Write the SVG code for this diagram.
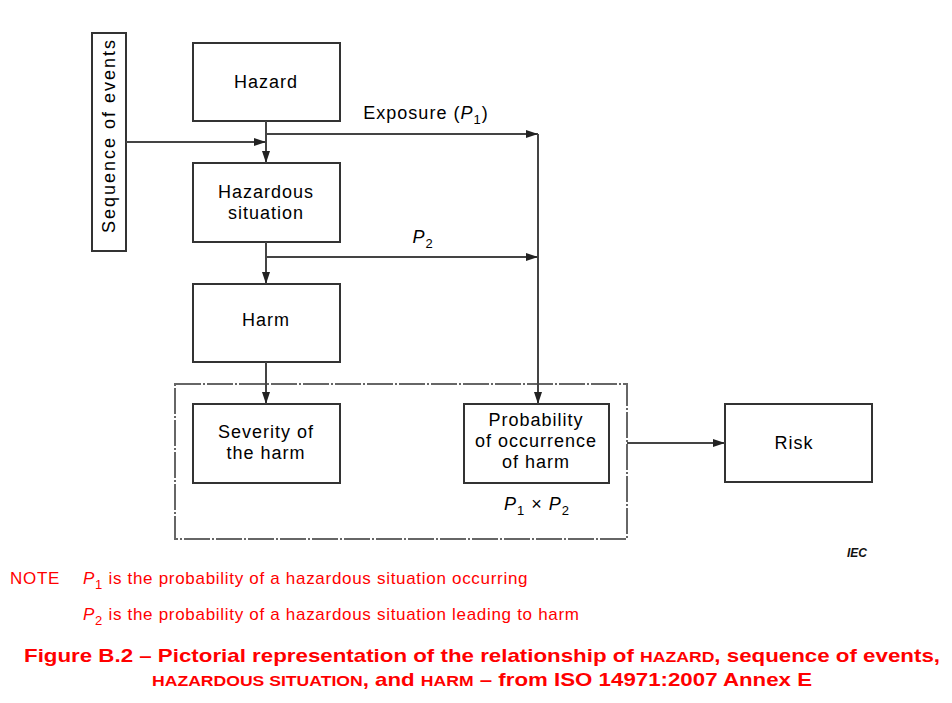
<svg xmlns="http://www.w3.org/2000/svg" width="952" height="703" viewBox="0 0 952 703">
<style>
.box{fill:#fff;stroke:#333;stroke-width:2}
.t{font-family:"Liberation Sans",Arial,sans-serif;font-size:18px;letter-spacing:1px;fill:#000;text-anchor:middle}
.c{fill:none;stroke:#444;stroke-width:2}
.red{font-family:"Liberation Sans",Arial,sans-serif;font-size:17px;letter-spacing:0.7px;fill:#ff0000}
.cap{font-family:"Liberation Sans",Arial,sans-serif;font-size:19px;font-weight:bold;fill:#ff0000;text-anchor:middle}
.sc{font-size:15px}
.sub{font-size:13px}
</style>
<defs>
<marker id="ah" markerWidth="13" markerHeight="9" refX="12" refY="4.5" orient="auto" markerUnits="userSpaceOnUse">
<path d="M0,0.5 L12,4.5 L0,8.5 Z" fill="#222"/>
</marker>
</defs>
<rect width="952" height="703" fill="#fff"/>
<g id="group-box">
<rect x="175" y="384" width="452" height="155" fill="none" stroke="#666" stroke-width="2" stroke-dasharray="26,2,2,2"/>
</g>
<g id="seq">
<rect class="box" x="92" y="33" width="34" height="218"/>
<text class="t" transform="translate(115,136) rotate(-90)" textLength="194" lengthAdjust="spacing">Sequence of events</text>
</g>
<g id="hazard">
<rect class="box" x="193" y="43" width="147" height="78"/>
<text class="t" x="266" y="88">Hazard</text>
</g>
<g id="hazsit">
<rect class="box" x="193" y="163" width="147" height="79"/>
<text class="t" x="266" y="198">Hazardous</text>
<text class="t" x="266" y="219">situation</text>
</g>
<g id="harm">
<rect class="box" x="193" y="284" width="147" height="78"/>
<text class="t" x="266" y="326">Harm</text>
</g>
<g id="severity">
<rect class="box" x="193" y="404" width="147" height="79"/>
<text class="t" x="266" y="438">Severity of</text>
<text class="t" x="266" y="459">the harm</text>
</g>
<g id="prob">
<rect class="box" x="464" y="404" width="145" height="79"/>
<text class="t" x="536" y="426">Probability</text>
<text class="t" x="536" y="447">of occurrence</text>
<text class="t" x="536" y="468">of harm</text>
<text class="t" x="537" y="510"><tspan font-style="italic">P</tspan><tspan class="sub" dy="5">1</tspan><tspan dy="-5"> × </tspan><tspan font-style="italic">P</tspan><tspan class="sub" dy="5">2</tspan></text>
</g>
<g id="risk">
<rect class="box" x="725" y="404" width="147" height="78"/>
<text class="t" x="794" y="449">Risk</text>
</g>
<g id="connectors">
<path class="c" d="M266,121 V163" marker-end="url(#ah)"/>
<path class="c" d="M126,142 H266" marker-end="url(#ah)"/>
<path class="c" d="M266,134 H538" marker-end="url(#ah)"/>
<path class="c" d="M538,134 V404" marker-end="url(#ah)"/>
<path class="c" d="M266,242 V284" marker-end="url(#ah)"/>
<path class="c" d="M266,257 H538" marker-end="url(#ah)"/>
<path class="c" d="M266,362 V404" marker-end="url(#ah)"/>
<path class="c" d="M627,443 H725" marker-end="url(#ah)"/>
</g>
<text class="t" x="426" y="119">Exposure (<tspan font-style="italic">P</tspan><tspan class="sub" dy="5">1</tspan><tspan dy="-5">)</tspan></text>
<text class="t" x="423" y="243"><tspan font-style="italic">P</tspan><tspan class="sub" dy="5">2</tspan></text>
<text x="857" y="557" font-family="Liberation Sans,Arial,sans-serif" font-size="12" font-style="italic" font-weight="bold" text-anchor="middle" fill="#111">IEC</text>
<text class="red" x="10" y="584">NOTE</text>
<text class="red" x="83" y="584"><tspan font-style="italic">P</tspan><tspan class="sub" dy="5">1</tspan><tspan dy="-5"> is the probability of a hazardous situation occurring</tspan></text>
<text class="red" x="83" y="620"><tspan font-style="italic">P</tspan><tspan class="sub" dy="5">2</tspan><tspan dy="-5"> is the probability of a hazardous situation leading to harm</tspan></text>
<text class="cap" x="482" y="662" textLength="916" lengthAdjust="spacingAndGlyphs">Figure B.2 – Pictorial representation of the relationship of <tspan class="sc">HAZARD</tspan>, sequence of events,</text>
<text class="cap" x="482" y="686" textLength="660" lengthAdjust="spacingAndGlyphs"><tspan class="sc">HAZARDOUS SITUATION</tspan>, and <tspan class="sc">HARM</tspan> – from ISO 14971:2007 Annex E</text>
</svg>
